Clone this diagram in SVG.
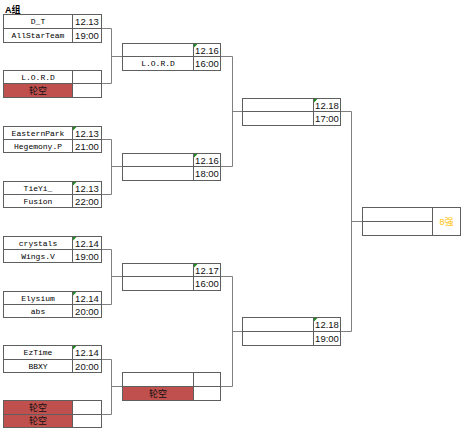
<svg xmlns="http://www.w3.org/2000/svg" width="465" height="439" viewBox="0 0 465 439">
<style>
.box{fill:#fff;stroke:#5f5f5f;stroke-width:1}
.ln{stroke:#5f5f5f;stroke-width:1;fill:none}
.bye{fill:#c0504d;stroke:#5f5f5f;stroke-width:1}
.con{stroke:#7f7f7f;stroke-width:1;fill:none}
.nm{font-family:"Liberation Mono",monospace;font-size:8px;fill:#000;text-anchor:middle;dominant-baseline:central}
.dt{font-family:"Liberation Sans",Arial,sans-serif;font-size:9.5px;fill:#111;text-anchor:middle;dominant-baseline:central}
.cj{font-family:"Liberation Sans","Noto Sans CJK SC",sans-serif;font-size:9px;fill:#111;text-anchor:middle;dominant-baseline:central}
.tri{fill:#1f8a1f}
</style>
<text x="5" y="12.5" style="font-family:'Liberation Sans','Noto Sans CJK SC',sans-serif;font-size:9px;font-weight:bold;fill:#000">A组</text>

<g id="connectors">
<path class="con" d="M101.5 28.5H111.5V83.5H101.5M111.5 56.5H122.5"/>
<path class="con" d="M101.5 139.5H111.5V194.5H101.5M111.5 166.5H122.5"/>
<path class="con" d="M101.5 249.5H111.5V304.5H101.5M111.5 276.5H122.5"/>
<path class="con" d="M101.5 359.5H111.5V414.5H101.5M111.5 386.5H122.5"/>
<path class="con" d="M220.5 56.5H232.5V166.5H220.5M232.5 111.5H242.5"/>
<path class="con" d="M220.5 276.5H232.5V386.5H220.5M232.5 331.5H242.5"/>
<path class="con" d="M340.5 111.5H351.5V331.5H340.5M351.5 221.5H362.5"/>
</g>

<g id="m1">
<rect class="box" x="3.5" y="14.5" width="98" height="28"/>
<path class="ln" d="M3.5 28.5H101.5M72.5 14.5V42.5"/>
<text class="nm" x="38" y="21.5">D_T</text><text class="nm" x="38" y="35.5">AllStarTeam</text>
<text class="dt" x="87" y="21.5">12.13</text><text class="dt" x="87" y="35.5">19:00</text>
</g>
<g id="m2">
<rect class="box" x="3.5" y="70.5" width="98" height="27"/>
<rect class="bye" x="3.5" y="83.5" width="69" height="14"/>
<path class="ln" d="M3.5 83.5H101.5M72.5 70.5V97.5"/>
<text class="nm" x="38" y="77">L.O.R.D</text><text class="cj" x="38" y="90.5">轮空</text>
</g>
<g id="m3">
<rect class="box" x="3.5" y="126.5" width="98" height="26"/>
<path class="ln" d="M3.5 139.5H101.5M72.5 126.5V152.5"/>
<path class="tri" d="M73 127H76.5L73 130.5Z"/>
<text class="nm" x="38" y="133">EasternPark</text><text class="nm" x="38" y="146">Hegemony.P</text>
<text class="dt" x="87" y="133">12.13</text><text class="dt" x="87" y="146">21:00</text>
</g>
<g id="m4">
<rect class="box" x="3.5" y="181.5" width="98" height="26"/>
<path class="ln" d="M3.5 194.5H101.5M72.5 181.5V207.5"/>
<path class="tri" d="M73 182H76.5L73 185.5Z"/>
<text class="nm" x="38" y="188">TieYi_</text><text class="nm" x="38" y="201">Fusion</text>
<text class="dt" x="87" y="188">12.13</text><text class="dt" x="87" y="201">22:00</text>
</g>
<g id="m5">
<rect class="box" x="3.5" y="236.5" width="98" height="26"/>
<path class="ln" d="M3.5 249.5H101.5M72.5 236.5V262.5"/>
<path class="tri" d="M73 237H76.5L73 240.5Z"/>
<text class="nm" x="38" y="243">crystals</text><text class="nm" x="38" y="256">Wings.V</text>
<text class="dt" x="87" y="243">12.14</text><text class="dt" x="87" y="256">19:00</text>
</g>
<g id="m6">
<rect class="box" x="3.5" y="291.5" width="98" height="26"/>
<path class="ln" d="M3.5 304.5H101.5M72.5 291.5V317.5"/>
<path class="tri" d="M73 292H76.5L73 295.5Z"/>
<text class="nm" x="38" y="298">Elysium</text><text class="nm" x="38" y="311">abs</text>
<text class="dt" x="87" y="298">12.14</text><text class="dt" x="87" y="311">20:00</text>
</g>
<g id="m7">
<rect class="box" x="3.5" y="345.5" width="98" height="27"/>
<path class="ln" d="M3.5 359.5H101.5M72.5 345.5V372.5"/>
<path class="tri" d="M73 346H76.5L73 349.5Z"/>
<text class="nm" x="38" y="352.5">EzTime</text><text class="nm" x="38" y="366">BBXY</text>
<text class="dt" x="87" y="352.5">12.14</text><text class="dt" x="87" y="366">20:00</text>
</g>
<g id="m8">
<rect class="box" x="3.5" y="400.5" width="98" height="27"/>
<rect class="bye" x="3.5" y="400.5" width="69" height="14"/>
<rect class="bye" x="3.5" y="414.5" width="69" height="13"/>
<path class="ln" d="M3.5 414.5H101.5M72.5 400.5V427.5"/>
<text class="cj" x="38" y="407.5">轮空</text><text class="cj" x="38" y="421">轮空</text>
</g>

<g id="q1">
<rect class="box" x="122.5" y="43.5" width="98" height="27"/>
<path class="ln" d="M122.5 56.5H220.5M193.5 43.5V70.5"/>
<path class="tri" d="M194 44H197.5L194 47.5Z"/>
<text class="nm" x="158" y="63.5">L.O.R.D</text>
<text class="dt" x="207" y="50">12.16</text><text class="dt" x="207" y="63.5">16:00</text>
</g>
<g id="q2">
<rect class="box" x="122.5" y="153.5" width="98" height="27"/>
<path class="ln" d="M122.5 166.5H220.5M193.5 153.5V180.5"/>
<path class="tri" d="M194 154H197.5L194 157.5Z"/>
<text class="dt" x="207" y="160">12.16</text><text class="dt" x="207" y="173.5">18:00</text>
</g>
<g id="q3">
<rect class="box" x="122.5" y="263.5" width="98" height="27"/>
<path class="ln" d="M122.5 276.5H220.5M193.5 263.5V290.5"/>
<path class="tri" d="M194 264H197.5L194 267.5Z"/>
<text class="dt" x="207" y="270">12.17</text><text class="dt" x="207" y="283.5">16:00</text>
</g>
<g id="q4">
<rect class="box" x="122.5" y="372.5" width="98" height="28"/>
<rect class="bye" x="122.5" y="386.5" width="71" height="14"/>
<path class="ln" d="M122.5 386.5H220.5M193.5 372.5V400.5"/>
<text class="cj" x="158" y="393.5">轮空</text>
</g>

<g id="s1">
<rect class="box" x="242.5" y="98.5" width="98" height="27"/>
<path class="ln" d="M242.5 111.5H340.5M313.5 98.5V125.5"/>
<path class="tri" d="M314 99H317.5L314 102.5Z"/>
<text class="dt" x="327" y="105">12.18</text><text class="dt" x="327" y="118.5">17:00</text>
</g>
<g id="s2">
<rect class="box" x="242.5" y="317.5" width="98" height="28"/>
<path class="ln" d="M242.5 331.5H340.5M313.5 317.5V345.5"/>
<path class="tri" d="M314 318H317.5L314 321.5Z"/>
<text class="dt" x="327" y="324.5">12.18</text><text class="dt" x="327" y="338.5">19:00</text>
</g>

<g id="final">
<rect class="box" x="362.5" y="207.5" width="98" height="28"/>
<path class="ln" d="M362.5 221.5H432.5M432.5 207.5V235.5"/>
<text class="cj" x="446.5" y="221.5" style="fill:#ffc000">8强</text>
</g>
</svg>
